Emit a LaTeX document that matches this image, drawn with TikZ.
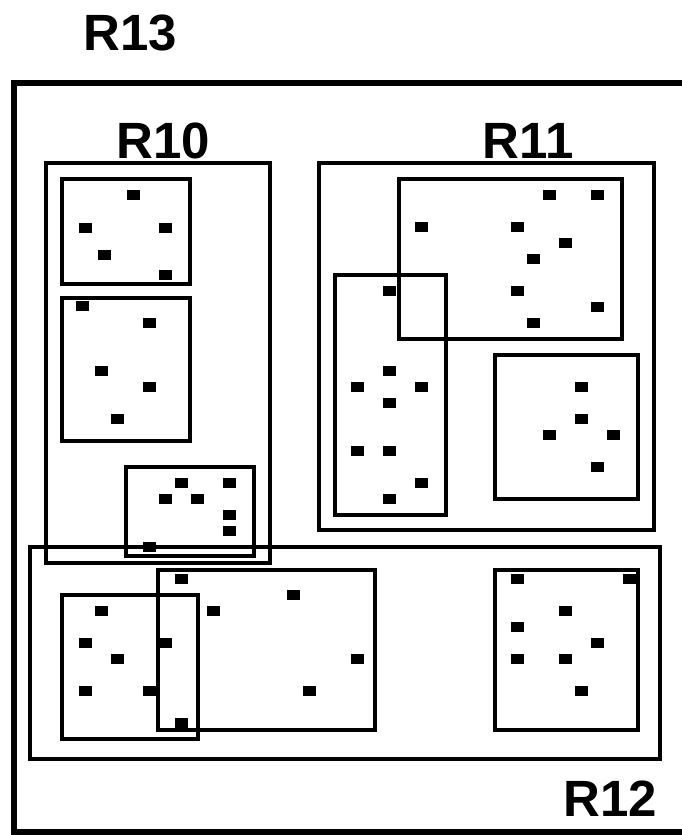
\documentclass[tikz,border=0pt]{standalone}
\usepackage{fontspec}
\setmainfont{Liberation Sans}

\tikzset{
  region/.style={line width=4.5pt},
  entry/.style={fill=black},
  rlabel/.style={font=\fontsize{51}{51}\selectfont\bfseries, inner sep=0pt, anchor=base}
}

\begin{document}
\begin{tikzpicture}[x=1pt,y=-1pt]
  \useasboundingbox (0,0) rectangle (682,835);

  % root R13
  \draw[line width=6pt] (682,83) -| (14,832) -- (682,832);
  \node[rlabel] (r13) at (130,50) {R13};

  % R10
  \draw[region] (46,163) rectangle (270,563);
  \node[rlabel] (r10) at (163,158) {R10};
  \draw[region] (62,179) rectangle (190,284);
  \draw[region] (62,298) rectangle (190,441);
  \draw[region] (126,467) rectangle (254,556);

  % R11
  \draw[region] (319,163) rectangle (654,530);
  \node[rlabel] (r11) at (528,158) {R11};
  \draw[region] (399,179) rectangle (622,339);
  \draw[region] (335,275) rectangle (446,515);
  \draw[region] (495,355) rectangle (638,499);

  % R12
  \draw[region] (30,547) rectangle (660,759);
  \node[rlabel] (r12) at (610,816) {R12};
  \draw[region] (62,595) rectangle (198,739);
  \draw[region] (158,570) rectangle (375,730);
  \draw[region] (495,570) rectangle (638,730);

  % data entries
  \foreach \x/\y in {133/195, 85/228, 165/228, 104/255, 165/275,
                     82/306, 149/323, 101/371, 149/387, 117/419,
                     181/483, 229/483, 165/499, 197/499, 229/515, 229/531, 149/547}
    \fill[entry] (\x-6.5,\y-5) rectangle ++(13,10);
  \foreach \x/\y in {549/195, 597/195, 421/227, 517/227, 565/243, 533/259, 517/291, 597/307, 533/323,
                     389/291, 389/371, 357/387, 421/387, 389/403, 357/451, 389/451, 421/483, 389/499,
                     581/387, 581/419, 549/435, 613/435, 597/467}
    \fill[entry] (\x-6.5,\y-5) rectangle ++(13,10);
  \foreach \x/\y in {181/579, 293/595, 101/611, 213/611, 85/643, 165/643, 117/659, 357/659,
                     85/691, 149/691, 309/691, 181/723,
                     517/579, 629/579, 565/611, 517/627, 597/643, 517/659, 565/659, 581/691}
    \fill[entry] (\x-6.5,\y-5) rectangle ++(13,10);
\end{tikzpicture}
\end{document}
